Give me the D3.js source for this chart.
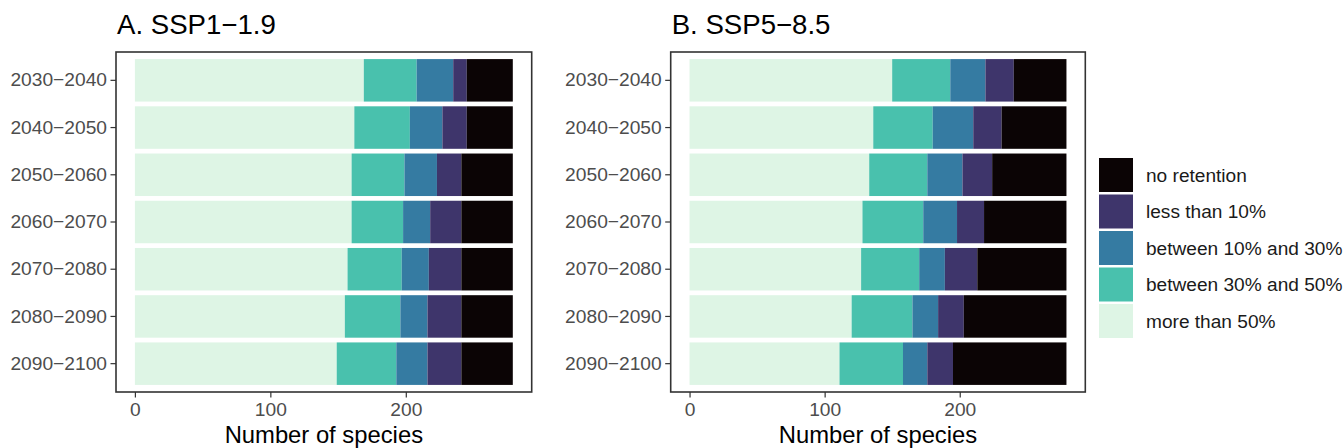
<!DOCTYPE html>
<html>
<head>
<meta charset="utf-8">
<script src="https://cdn.jsdelivr.net/npm/d3@7"></script>
<style>
  html, body { margin: 0; padding: 0; background: #fff; }
  svg { display: block; font-family: "Liberation Sans", Arial, Helvetica, sans-serif; }
</style>
</head>
<body>
<svg id="chart" width="1343" height="448"></svg>
<script>
// ---- data ----
const periods = ["2030\u22122040", "2040\u22122050", "2050\u22122060", "2060\u22122070", "2070\u22122080", "2080\u22122090", "2090\u22122100"];
const categories = ["more than 50%", "between 30% and 50%", "between 10% and 30%", "less than 10%", "no retention"];
const legendOrder = ["no retention", "less than 10%", "between 10% and 30%", "between 30% and 50%", "more than 50%"];
const colors = ["#DEF5E5", "#49C1AD", "#357BA2", "#3E356B", "#0B0405"];
const panelTitles = ["A. SSP1\u22121.9", "B. SSP5\u22128.5"];
const xTicks = [0, 100, 200];

// values per period, in category order (more than 50% ... no retention)
const ssp119 = [
  [169, 39, 27, 10, 34],
  [162, 41, 24, 18, 34],
  [160, 39, 24, 18, 38],
  [160, 38, 20, 23, 38],
  [157, 40, 20, 24, 38],
  [155, 41, 20, 25, 38],
  [149, 44, 23, 25, 38]
];
const ssp585 = [
  [150, 43, 26, 21, 39],
  [136, 44, 30, 21, 48],
  [133, 43, 26, 22, 55],
  [128, 45, 25, 20, 61],
  [127, 43, 19, 24, 66],
  [120, 45, 19, 19, 76],
  [111, 47, 18, 19, 84]
];

// ---- drawing ----
(function () {
const svg = d3.select("#chart");
const color = d3.scaleOrdinal().domain(categories).range(colors);
const plotTop = 52, plotBottom = 392;
const panels = [
  { data: ssp119, left: 116, right: 531.7, title: panelTitles[0] },
  { data: ssp585, left: 670.7, right: 1085.3, title: panelTitles[1] }
];

const maxTotal = d3.max([...ssp119, ...ssp585], r => d3.sum(r));
const xDomain = [-0.05 * maxTotal, maxTotal * 1.05];

panels.forEach(p => {
  const g = svg.append("g");
  const x = d3.scaleLinear().domain(xDomain).range([p.left, p.right]);
  const y = d3.scaleBand().domain(periods).range([plotTop, plotBottom]).paddingInner(0.1).paddingOuter(0.15);

  const rows = p.data.map((r, i) => {
    const o = { period: periods[i] };
    categories.forEach((c, j) => o[c] = r[j]);
    return o;
  });
  const stacked = d3.stack().keys(categories)(rows);

  g.selectAll("g.layer").data(stacked).join("g")
    .attr("class", "layer")
    .attr("fill", d => color(d.key))
    .selectAll("rect").data(d => d).join("rect")
    .attr("x", d => x(d[0]))
    .attr("width", d => x(d[1]) - x(d[0]))
    .attr("y", d => y(d.data.period))
    .attr("height", y.bandwidth());

  // panel border
  g.append("rect")
    .attr("x", p.left).attr("y", plotTop)
    .attr("width", p.right - p.left).attr("height", plotBottom - plotTop)
    .attr("fill", "none").attr("stroke", "#333333").attr("stroke-width", 1.6);

  // x axis
  const xa = g.append("g").attr("transform", `translate(0,${plotBottom})`)
    .call(d3.axisBottom(x).tickValues(xTicks).tickSize(5.5).tickPadding(4.5).tickFormat(d3.format("d")));
  xa.select(".domain").remove();
  xa.selectAll("line").attr("stroke", "#333333").attr("stroke-width", 1.2);
  xa.selectAll("text").attr("fill", "#4D4D4D").style("font-size", "19.2px");

  // y axis
  const ya = g.append("g").attr("transform", `translate(${p.left},0)`)
    .call(d3.axisLeft(y).tickSize(5.5).tickPadding(3.5));
  ya.select(".domain").remove();
  ya.selectAll("line").attr("stroke", "#333333").attr("stroke-width", 1.2);
  ya.selectAll("text").attr("fill", "#4D4D4D").style("font-size", "19.2px");

  // title
  g.append("text").attr("x", p.left + 1).attr("y", 34)
    .style("font-size", "27.6px").attr("fill", "#000").text(p.title);

  // x axis title
  g.append("text").attr("x", x(maxTotal / 2)).attr("y", 443)
    .attr("text-anchor", "middle").style("font-size", "23.8px").attr("fill", "#000")
    .text("Number of species");
});

// legend
const lg = svg.append("g").attr("transform", "translate(1099,158)");
const items = lg.selectAll("g").data(legendOrder).join("g")
  .attr("transform", (d, i) => `translate(0,${i * 36.5})`);
items.append("rect").attr("width", 34).attr("height", 34).attr("fill", d => color(d));
items.append("text").attr("x", 47).attr("y", 17).attr("dy", "0.35em")
  .style("font-size", "19.1px").attr("fill", "#1a1a1a").text(d => d);
})();
</script>
</body>
</html>
